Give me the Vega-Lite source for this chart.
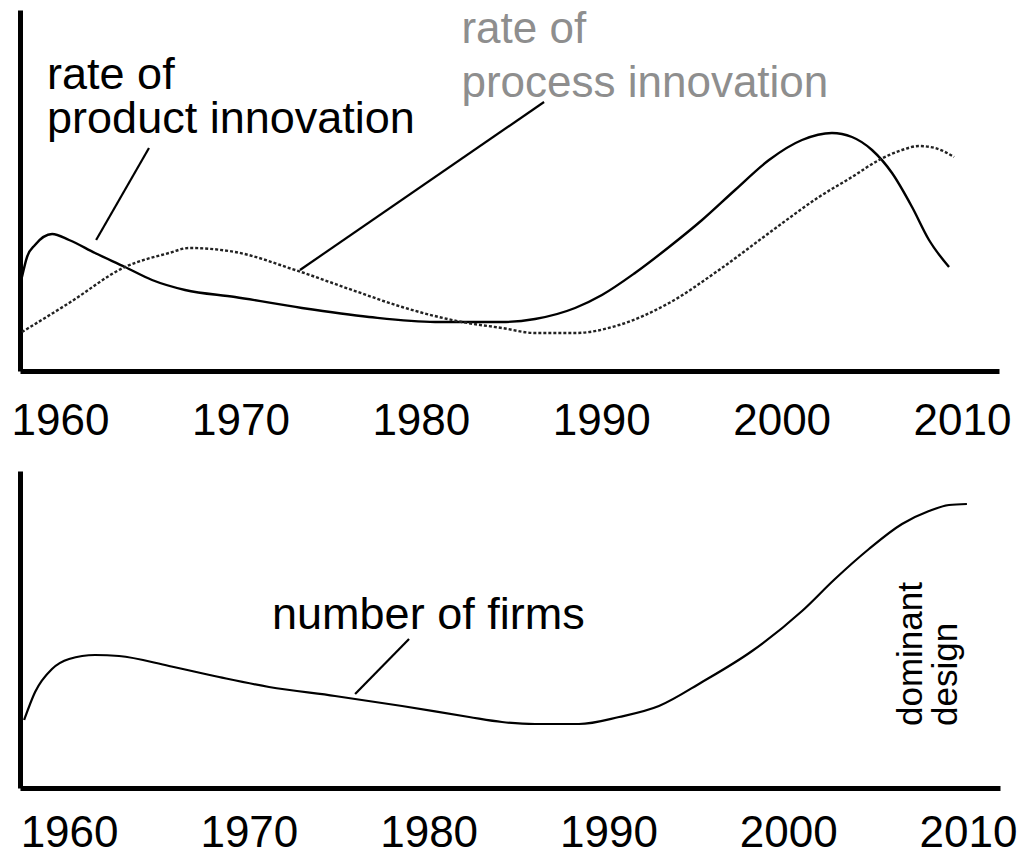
{
  "$schema": "https://vega.github.io/schema/vega-lite/v6.json",
  "background": "white",
  "padding": {"left": 11, "top": 8, "right": 5, "bottom": 5},
  "spacing": 28,
  "config": {
    "view": {"stroke": null},
    "font": "Liberation Sans",
    "axisX": {"grid": false, "ticks": false, "tickSize": 0, "domainColor": "black", "domainWidth": 5, "labelColor": "black", "labelFontSize": 44, "labelFont": "Liberation Sans", "labelFlush": false, "title": null, "labelOverlap": false},
    "axisY": {"grid": false, "ticks": false, "labels": false, "domainColor": "black", "domainWidth": 5, "title": null}
  },
  "datasets": {
    "curves": [
      {"panel": "top", "series": "product", "year": 1957.89, "v": 94},
      {"panel": "top", "series": "product", "year": 1958.17, "v": 114},
      {"panel": "top", "series": "product", "year": 1958.61, "v": 126},
      {"panel": "top", "series": "product", "year": 1959.56, "v": 137},
      {"panel": "top", "series": "product", "year": 1960.5, "v": 131},
      {"panel": "top", "series": "product", "year": 1961.94, "v": 118},
      {"panel": "top", "series": "product", "year": 1963.6, "v": 104},
      {"panel": "top", "series": "product", "year": 1965.1, "v": 91},
      {"panel": "top", "series": "product", "year": 1966.93, "v": 81},
      {"panel": "top", "series": "product", "year": 1969.7, "v": 74},
      {"panel": "top", "series": "product", "year": 1973.41, "v": 63},
      {"panel": "top", "series": "product", "year": 1977.13, "v": 54},
      {"panel": "top", "series": "product", "year": 1980.79, "v": 49},
      {"panel": "top", "series": "product", "year": 1983.0, "v": 49},
      {"panel": "top", "series": "product", "year": 1984.5, "v": 49},
      {"panel": "top", "series": "product", "year": 1986.33, "v": 52},
      {"panel": "top", "series": "product", "year": 1988.55, "v": 63},
      {"panel": "top", "series": "product", "year": 1990.04, "v": 76},
      {"panel": "top", "series": "product", "year": 1991.87, "v": 98},
      {"panel": "top", "series": "product", "year": 1993.76, "v": 124},
      {"panel": "top", "series": "product", "year": 1995.59, "v": 151},
      {"panel": "top", "series": "product", "year": 1997.42, "v": 181},
      {"panel": "top", "series": "product", "year": 1999.3, "v": 211},
      {"panel": "top", "series": "product", "year": 2001.13, "v": 231},
      {"panel": "top", "series": "product", "year": 2002.79, "v": 238},
      {"panel": "top", "series": "product", "year": 2003.9, "v": 234},
      {"panel": "top", "series": "product", "year": 2005.01, "v": 221},
      {"panel": "top", "series": "product", "year": 2006.12, "v": 198},
      {"panel": "top", "series": "product", "year": 2007.23, "v": 164},
      {"panel": "top", "series": "product", "year": 2008.17, "v": 131},
      {"panel": "top", "series": "product", "year": 2009.28, "v": 104},
      {"panel": "top", "series": "process", "year": 1957.89, "v": 39},
      {"panel": "top", "series": "process", "year": 1960.5, "v": 68},
      {"panel": "top", "series": "process", "year": 1963.6, "v": 104},
      {"panel": "top", "series": "process", "year": 1966.04, "v": 118},
      {"panel": "top", "series": "process", "year": 1967.15, "v": 123},
      {"panel": "top", "series": "process", "year": 1969.7, "v": 119},
      {"panel": "top", "series": "process", "year": 1973.03, "v": 101},
      {"panel": "top", "series": "process", "year": 1976.19, "v": 81},
      {"panel": "top", "series": "process", "year": 1978.96, "v": 64},
      {"panel": "top", "series": "process", "year": 1982.28, "v": 49},
      {"panel": "top", "series": "process", "year": 1984.5, "v": 43},
      {"panel": "top", "series": "process", "year": 1986.33, "v": 38},
      {"panel": "top", "series": "process", "year": 1988.55, "v": 38},
      {"panel": "top", "series": "process", "year": 1990.99, "v": 46},
      {"panel": "top", "series": "process", "year": 1993.76, "v": 68},
      {"panel": "top", "series": "process", "year": 1996.53, "v": 101},
      {"panel": "top", "series": "process", "year": 1999.3, "v": 138},
      {"panel": "top", "series": "process", "year": 2002.07, "v": 174},
      {"panel": "top", "series": "process", "year": 2003.9, "v": 194},
      {"panel": "top", "series": "process", "year": 2005.4, "v": 211},
      {"panel": "top", "series": "process", "year": 2006.67, "v": 221},
      {"panel": "top", "series": "process", "year": 2007.62, "v": 225},
      {"panel": "top", "series": "process", "year": 2008.5, "v": 223},
      {"panel": "top", "series": "process", "year": 2009.56, "v": 214},
      {"panel": "bottom", "series": "firms", "year": 1957.5, "v": 68},
      {"panel": "bottom", "series": "firms", "year": 1958.11, "v": 96},
      {"panel": "bottom", "series": "firms", "year": 1959.05, "v": 119},
      {"panel": "bottom", "series": "firms", "year": 1960.0, "v": 129},
      {"panel": "bottom", "series": "firms", "year": 1961.45, "v": 133},
      {"panel": "bottom", "series": "firms", "year": 1962.78, "v": 132},
      {"panel": "bottom", "series": "firms", "year": 1965.56, "v": 122},
      {"panel": "bottom", "series": "firms", "year": 1968.34, "v": 111},
      {"panel": "bottom", "series": "firms", "year": 1971.12, "v": 101},
      {"panel": "bottom", "series": "firms", "year": 1974.79, "v": 92},
      {"panel": "bottom", "series": "firms", "year": 1978.52, "v": 82},
      {"panel": "bottom", "series": "firms", "year": 1982.25, "v": 71},
      {"panel": "bottom", "series": "firms", "year": 1984.08, "v": 66},
      {"panel": "bottom", "series": "firms", "year": 1985.92, "v": 64},
      {"panel": "bottom", "series": "firms", "year": 1988.36, "v": 64},
      {"panel": "bottom", "series": "firms", "year": 1990.59, "v": 71},
      {"panel": "bottom", "series": "firms", "year": 1992.81, "v": 82},
      {"panel": "bottom", "series": "firms", "year": 1995.21, "v": 106},
      {"panel": "bottom", "series": "firms", "year": 1997.99, "v": 137},
      {"panel": "bottom", "series": "firms", "year": 2000.77, "v": 177},
      {"panel": "bottom", "series": "firms", "year": 2002.6, "v": 209},
      {"panel": "bottom", "series": "firms", "year": 2004.49, "v": 239},
      {"panel": "bottom", "series": "firms", "year": 2006.33, "v": 264},
      {"panel": "bottom", "series": "firms", "year": 2007.83, "v": 277},
      {"panel": "bottom", "series": "firms", "year": 2008.94, "v": 283},
      {"panel": "bottom", "series": "firms", "year": 2009.94, "v": 284}
    ],
    "pointers": [
      {"panel": "top", "id": "product", "year": 1964.93, "v": 223},
      {"panel": "top", "id": "product", "year": 1962.0, "v": 131},
      {"panel": "top", "id": "process", "year": 1986.83, "v": 269},
      {"panel": "top", "id": "process", "year": 1973.3, "v": 101},
      {"panel": "bottom", "id": "firms", "year": 1978.91, "v": 149},
      {"panel": "bottom", "id": "firms", "year": 1975.91, "v": 94}
    ],
    "labels": [
      {"id": "product", "text": "rate of\nproduct innovation", "year": 1959.28, "v": 282},
      {"id": "process", "text": "rate of\nprocess innovation", "year": 1982.25, "v": 328},
      {"id": "firms", "text": "number of firms", "year": 1971.29, "v": 159},
      {"id": "dominant", "text": "dominant\ndesign", "year": 2007.44, "v": 62}
    ]
  },
  "vconcat": [
    {
      "width": 979,
      "height": 361,
      "encoding": {
        "x": {"field": "year", "type": "quantitative", "scale": {"domain": [1957.78, 2012.05], "nice": false, "zero": false}, "axis": {"labelPadding": 28, "values": [1960, 1970, 1980, 1990, 2000, 2010], "format": "d"}},
        "y": {"field": "v", "type": "quantitative", "scale": {"domain": [0, 361], "nice": false, "zero": false}}
      },
      "layer": [
        {
          "data": {"name": "curves"},
          "transform": [{"filter": "datum.series === 'product'"}],
          "mark": {"type": "line", "interpolate": "monotone", "color": "black", "strokeWidth": 2.4}
        },
        {
          "data": {"name": "curves"},
          "transform": [{"filter": "datum.series === 'process'"}],
          "mark": {"type": "line", "interpolate": "monotone", "color": "#222222", "strokeWidth": 2.4, "strokeDash": [3, 2]}
        },
        {
          "data": {"name": "pointers"},
          "transform": [{"filter": "datum.panel === 'top'"}],
          "mark": {"type": "line", "color": "black", "strokeWidth": 2.2},
          "encoding": {"detail": {"field": "id"}}
        },
        {
          "data": {"name": "labels"},
          "transform": [{"filter": "datum.id === 'product'"}],
          "mark": {"type": "text", "align": "left", "baseline": "alphabetic", "fontSize": 45, "lineHeight": 44, "lineBreak": "\n", "color": "black"},
          "encoding": {"text": {"field": "text"}}
        },
        {
          "data": {"name": "labels"},
          "transform": [{"filter": "datum.id === 'process'"}],
          "mark": {"type": "text", "align": "left", "baseline": "alphabetic", "fontSize": 44, "lineHeight": 54, "lineBreak": "\n", "color": "#8e8e8e"},
          "encoding": {"text": {"field": "text"}}
        }
      ]
    },
    {
      "width": 980,
      "height": 317,
      "encoding": {
        "x": {"field": "year", "type": "quantitative", "scale": {"domain": [1957.27, 2011.78], "nice": false, "zero": false}, "axis": {"labelPadding": 23, "values": [1960, 1970, 1980, 1990, 2000, 2010], "format": "d"}},
        "y": {"field": "v", "type": "quantitative", "scale": {"domain": [0, 317], "nice": false, "zero": false}}
      },
      "layer": [
        {
          "data": {"name": "curves"},
          "transform": [{"filter": "datum.series === 'firms'"}],
          "mark": {"type": "line", "interpolate": "monotone", "color": "black", "strokeWidth": 2.2}
        },
        {
          "data": {"name": "pointers"},
          "transform": [{"filter": "datum.panel === 'bottom'"}],
          "mark": {"type": "line", "color": "black", "strokeWidth": 2.2},
          "encoding": {"detail": {"field": "id"}}
        },
        {
          "data": {"name": "labels"},
          "transform": [{"filter": "datum.id === 'firms'"}],
          "mark": {"type": "text", "align": "left", "baseline": "alphabetic", "fontSize": 45, "color": "black"},
          "encoding": {"text": {"field": "text"}}
        },
        {
          "data": {"name": "labels"},
          "transform": [{"filter": "datum.id === 'dominant'"}],
          "mark": {"type": "text", "align": "left", "baseline": "alphabetic", "fontSize": 35, "lineHeight": 35, "lineBreak": "\n", "angle": 270, "color": "black"},
          "encoding": {"text": {"field": "text"}}
        }
      ]
    }
  ]
}
